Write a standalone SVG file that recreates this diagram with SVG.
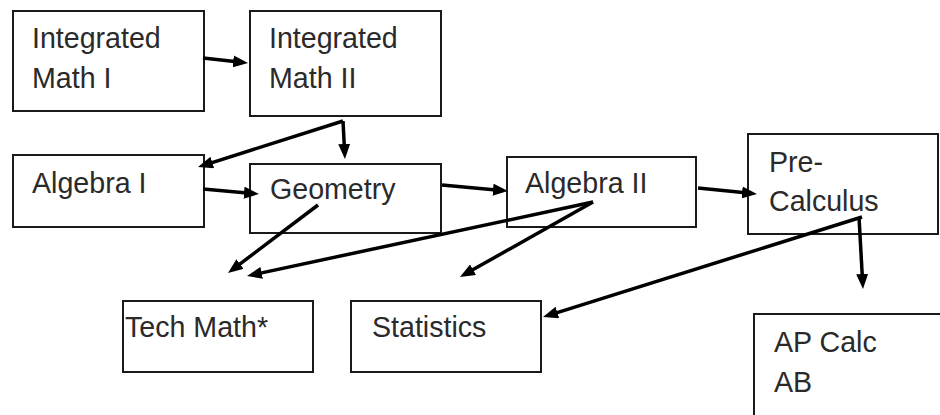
<svg xmlns="http://www.w3.org/2000/svg" width="940" height="415" viewBox="0 0 940 415">
<style>
.box{fill:#fff;stroke:#1a1a1a;stroke-width:2}
.t{font-family:"Liberation Sans",Arial,sans-serif;font-size:28.6px;fill:#2a2a2a}
.c{stroke:#000;stroke-width:3.5;fill:none;marker-end:url(#ah)}
</style>
<defs>
<marker id="ah" markerUnits="userSpaceOnUse" markerWidth="15" markerHeight="12" refX="6" refY="6" orient="auto" viewBox="0 0 15 12">
<path d="M0,0 L15,6 L0,12 z" fill="#000"/>
</marker>
</defs>
<rect width="940" height="415" fill="#fff"/>
<g id="im1"><rect class="box" x="13" y="11" width="191" height="100"/><text class="t" x="32" y="48">Integrated</text><text class="t" x="32" y="88">Math I</text></g>
<g id="im2"><rect class="box" x="250" y="11" width="191" height="105"/><text class="t" x="269" y="48">Integrated</text><text class="t" x="269" y="88">Math II</text></g>
<g id="alg1"><rect class="box" x="13" y="155" width="191" height="72"/><text class="t" x="32" y="193">Algebra I</text></g>
<g id="geo"><rect class="box" x="250" y="164" width="191" height="69"/><text class="t" x="270" y="199">Geometry</text></g>
<g id="alg2"><rect class="box" x="507" y="157" width="189" height="70"/><text class="t" x="525" y="193">Algebra II</text></g>
<g id="precalc"><rect class="box" x="748" y="134" width="190" height="100"/><text class="t" x="769" y="172">Pre-</text><text class="t" x="769" y="211">Calculus</text></g>
<g id="tech"><rect class="box" x="123" y="301" width="190" height="71"/><text class="t" x="125" y="337">Tech Math*</text></g>
<g id="stats"><rect class="box" x="351" y="301" width="190" height="71"/><text class="t" x="372" y="337">Statistics</text></g>
<g id="apcalc"><rect class="box" x="754" y="314" width="200" height="120"/><text class="t" x="774" y="352">AP Calc</text><text class="t" x="774" y="392">AB</text></g>
<g id="connectors">
<path class="c" d="M203,58 L239.1,62"/>
<path class="c" d="M343,121 L206.6,164.3"/>
<path class="c" d="M343,121 L344.5,150"/>
<path class="c" d="M203,189 L250,193.2"/>
<path class="c" d="M442,185 L499,190.2"/>
<path class="c" d="M698,188 L748,193.1"/>
<path class="c" d="M318,205 L235.2,267.6"/>
<path class="c" d="M593,202 L255.8,274.1"/>
<path class="c" d="M593,202 L467.8,272.6"/>
<path class="c" d="M862,217 L551.6,314.3"/>
<path class="c" d="M859,217 L862.5,280"/>
</g>
</svg>
